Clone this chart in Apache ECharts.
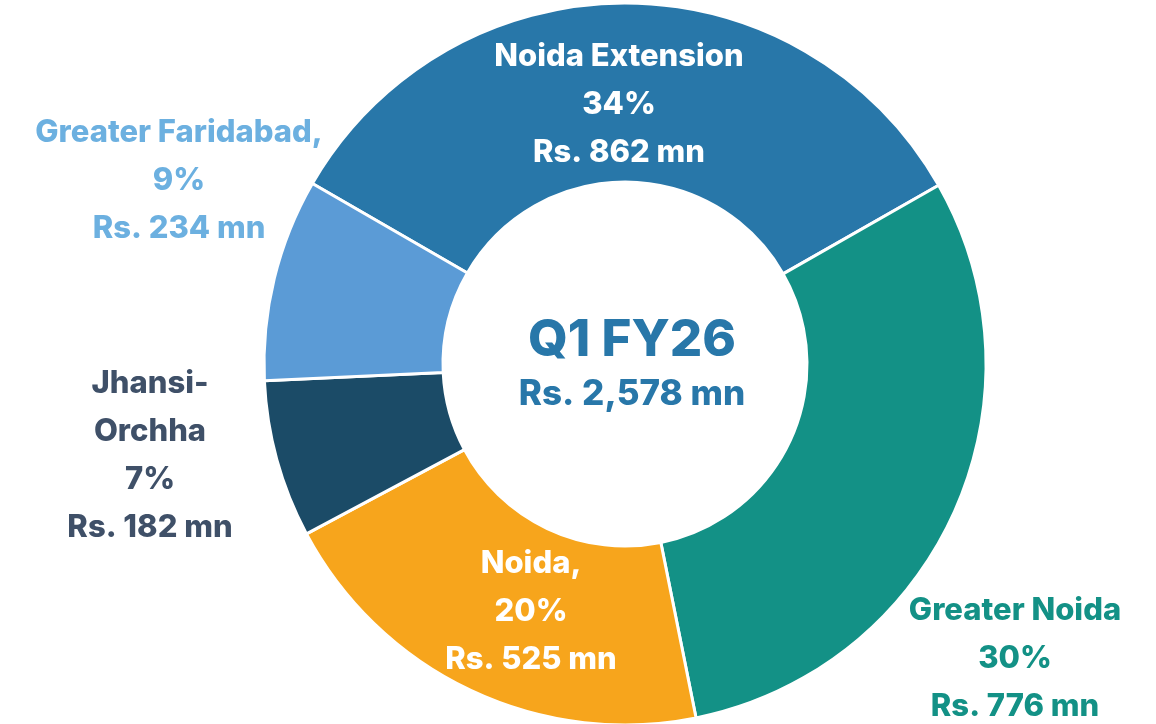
<!DOCTYPE html>
<html>
<head>
<meta charset="utf-8">
<script src="https://cdn.jsdelivr.net/npm/echarts@6/dist/echarts.min.js"></script>
<style>
    html, body { margin: 0; padding: 0; background: #fff; }
    #chart { width: 1156px; height: 724px; }
</style>
</head>
<body>
<div id="chart"></div>
<script>
'use strict';
{
    const regions = ['Noida Extension', 'Greater Noida', 'Noida,', 'Jhansi-\nOrchha', 'Greater Faridabad,'];
    const revenue = [862, 776, 525, 182, 234];
    const shares = ['34%', '30%', '20%', '7%', '9%'];
    const colors = ['#2877a9', '#139186', '#f7a51c', '#1b4b67', '#5b9bd6'];
    const labelColors = ['#ffffff', '#139186', '#ffffff', '#3f5068', '#6cb0e0'];
    // label centres, px
    const labelPos = [[619, 105], [1015, 659], [531, 612], [150, 456], [179, 181]];

    let dom = document.getElementById('chart');
    let myChart = echarts.init(dom);

    let data = regions.map(function (name, i) {
        return {
            name: name,
            value: revenue[i],
            itemStyle: { color: colors[i] },
            label: { color: labelColors[i] }
        };
    });

    let option = {
        animation: false,
        textStyle: { fontFamily: 'Inter' },
        graphic: [{
            type: 'text',
            x: 632,
            y: 341,
            style: {
                text: 'Q1 FY26',
                fill: '#2877a9',
                font: '800 51px Inter',
                textAlign: 'center',
                textVerticalAlign: 'middle'
            }
        }, {
            type: 'text',
            x: 632,
            y: 394,
            style: {
                text: 'Rs. 2,578 mn',
                fill: '#2877a9',
                font: '800 35px Inter',
                textAlign: 'center',
                textVerticalAlign: 'middle'
            }
        }],
        series: [{
            type: 'pie',
            center: [625, 364],
            radius: [182, 361],
            startAngle: 150,
            clockwise: true,
            itemStyle: { borderColor: '#fff', borderWidth: 3 },
            label: {
                show: true,
                position: 'inside',
                fontFamily: 'Inter',
                fontWeight: 800,
                fontSize: 31,
                lineHeight: 48,
                align: 'center',
                formatter: function (p) {
                    return p.name + '\n' + shares[p.dataIndex] + '\nRs. ' + p.value + ' mn';
                }
            },
            labelLine: { show: false },
            labelLayout: function (params) {
                let pos = labelPos[params.dataIndex];
                return { x: pos[0], y: pos[1], align: 'center', verticalAlign: 'middle' };
            },
            emphasis: { disabled: true },
            data: data
        }]
    };

    myChart.setOption(option, true);
}
</script>
</body>
</html>
